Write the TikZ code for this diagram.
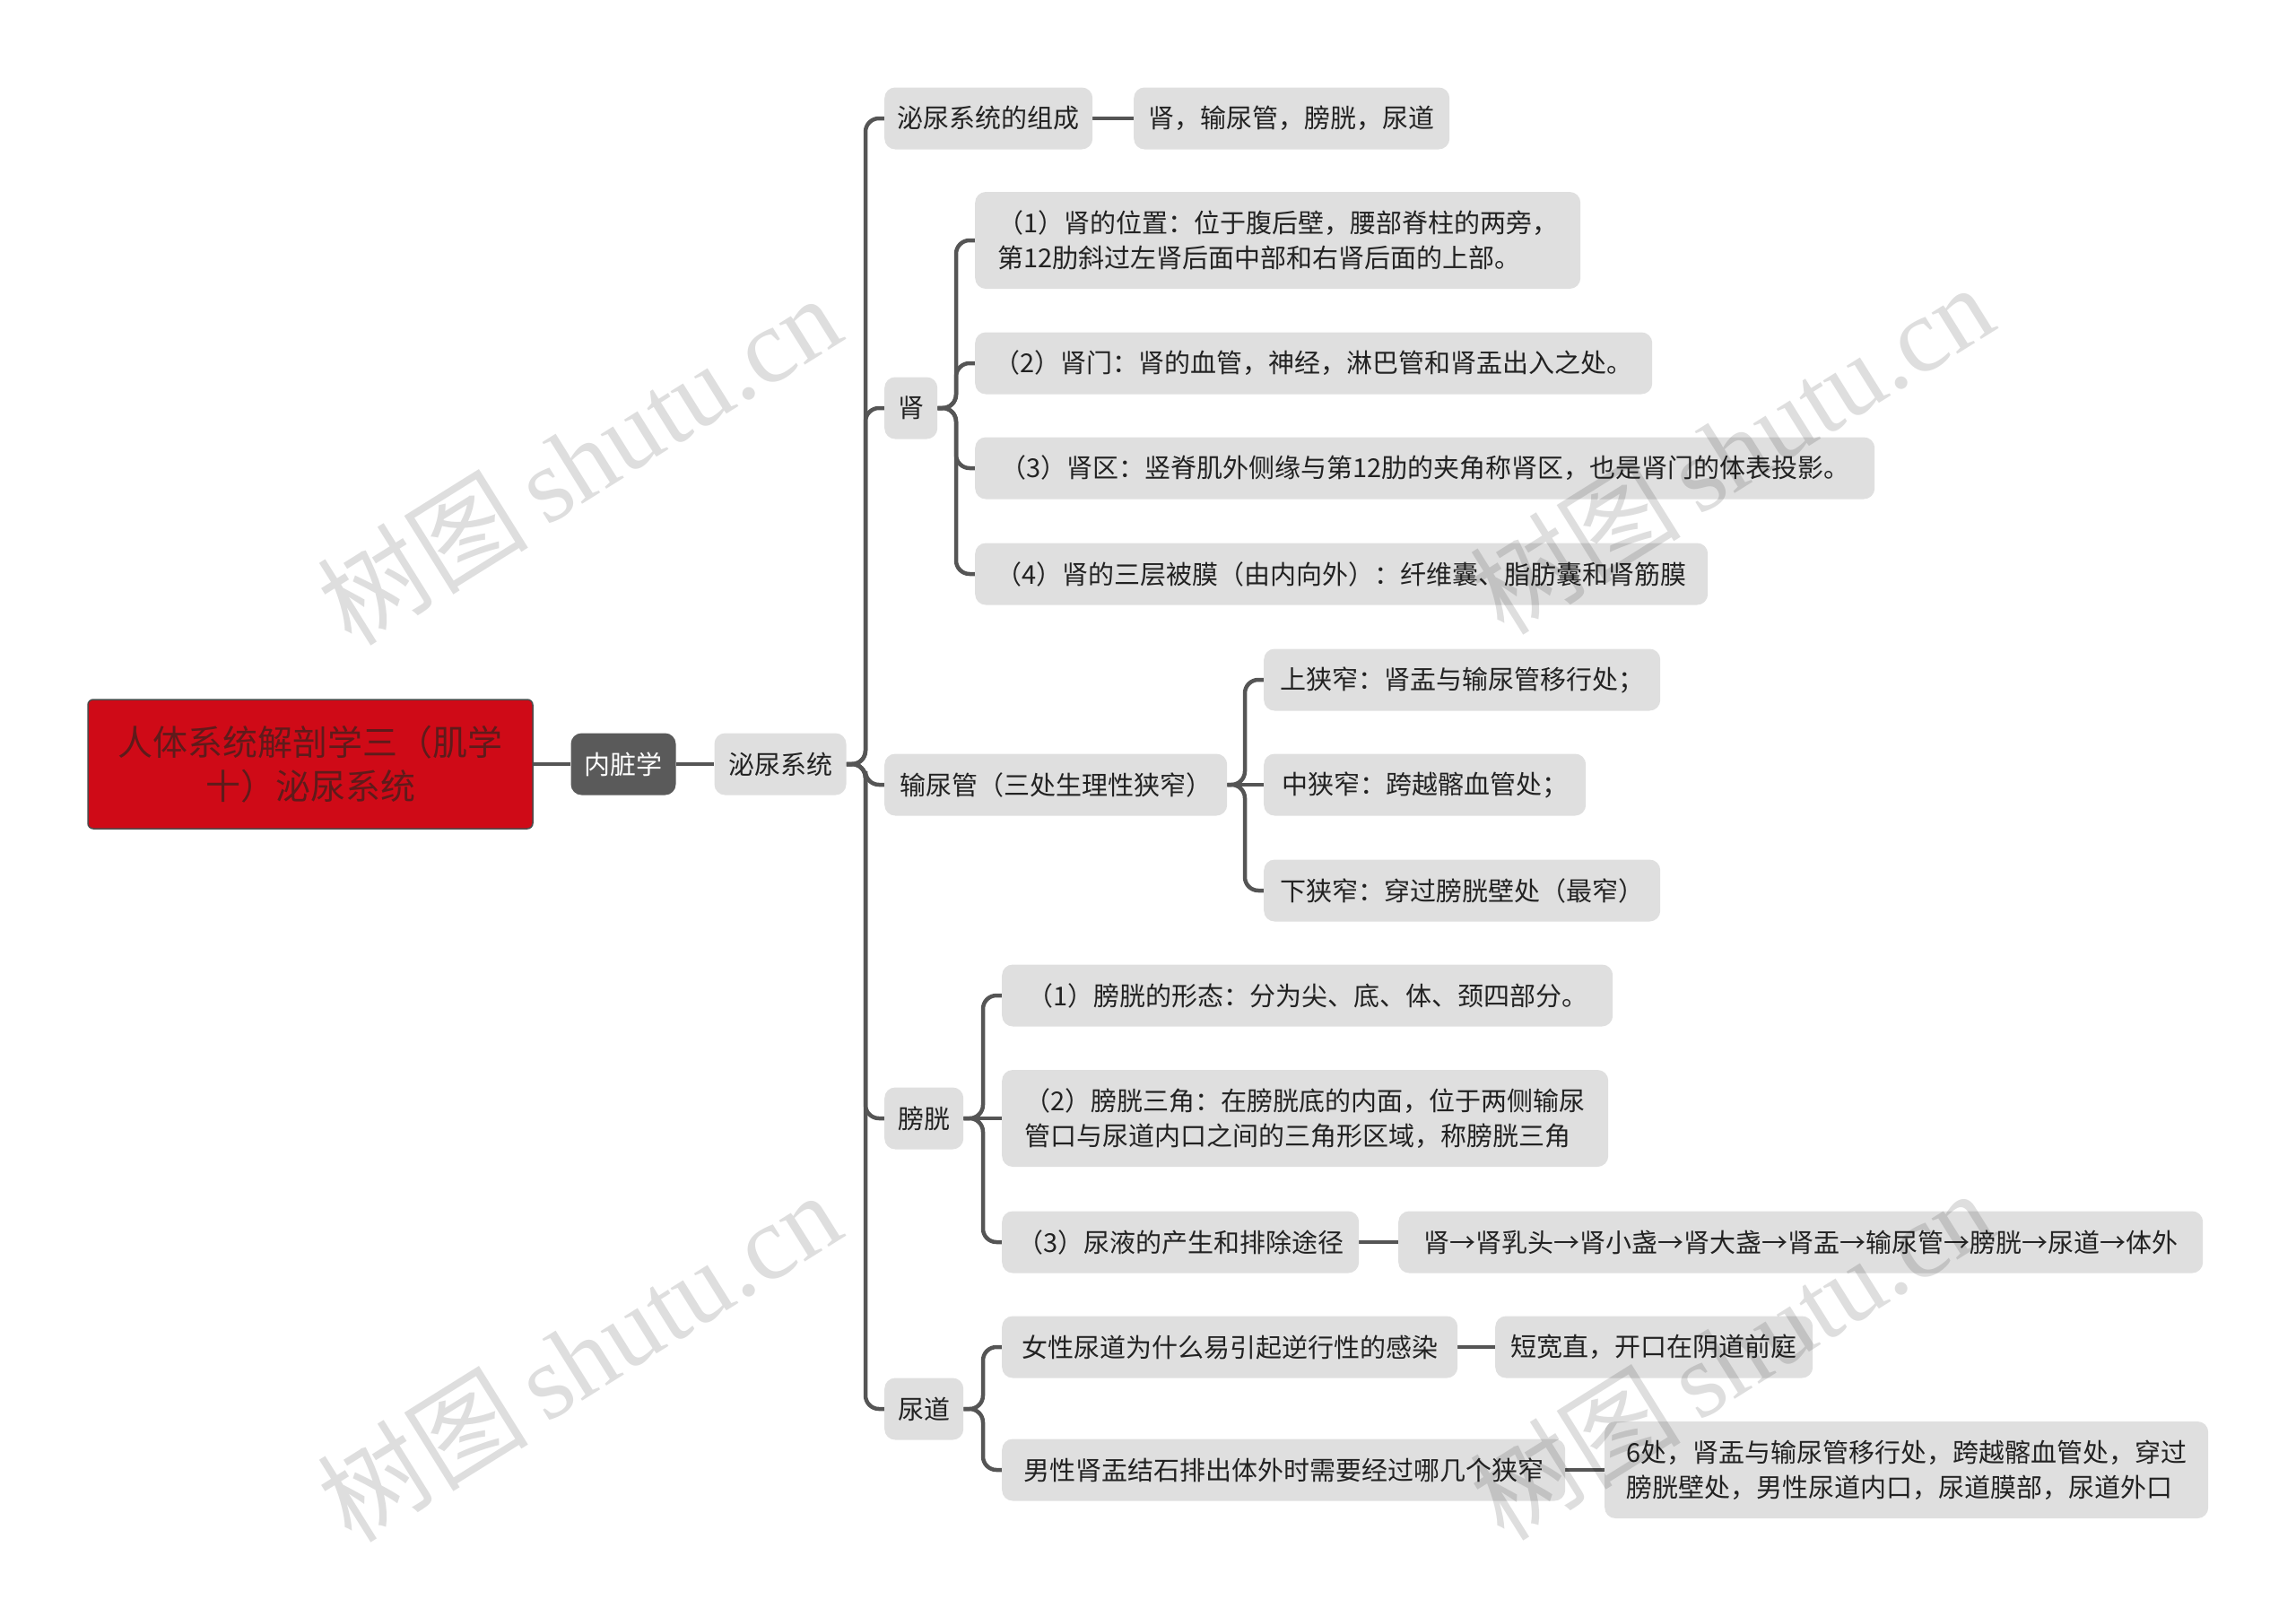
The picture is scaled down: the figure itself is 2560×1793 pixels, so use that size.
\documentclass[tikz,border=0pt]{standalone}
\usepackage{fontspec}
\newfontfamily\cjk{Noto Sans CJK SC}
\newfontfamily\wmlat{Liberation Serif}
\usetikzlibrary{backgrounds}
\definecolor{boxgray}{HTML}{DFDFDF}
\definecolor{linec}{HTML}{555555}
\definecolor{textc}{HTML}{222222}
\definecolor{rootred}{HTML}{CF0A17}
\definecolor{roottext}{HTML}{5E1B1B}
\definecolor{darkbox}{HTML}{5A5A5A}
\tikzset{
  x=1pt,y=-1pt,
  box/.style={fill=boxgray, rounded corners=12pt, inner xsep=14pt, inner ysep=0pt,
    minimum height=69pt, font=\cjk\fontsize{29}{39}\selectfont, text=textc, anchor=west},
  tall/.style={minimum height=108pt, align=left},
  conn/.style={draw=linec, line width=4.5pt, rounded corners=15pt},
  wm/.style={rotate=32, text=black, opacity=0.13, font=\fontsize{118}{118}\selectfont}
}
\begin{document}
\begin{tikzpicture}
\useasboundingbox (0,0) rectangle (2560,1793);
% root
\node[fill=rootred, draw=black!70, line width=1.5pt, rounded corners=6pt,
  minimum width=496pt, minimum height=144pt, align=center, text=roottext,
  font=\cjk\fontsize{39}{49}\selectfont] (root) at (346,852)
  {人体系统解剖学三（肌学\\十）泌尿系统};
\node[box, fill=darkbox, text=white, anchor=center, minimum width=117pt] (nzx) at (695,852) {内脏学};
\node[box, anchor=center, minimum width=147pt] (mnxt) at (870,852) {泌尿系统};
% level 3
\node[box, minimum width=232pt] (zc) at (986,132) {泌尿系统的组成};
\node[box, minimum width=352pt] (zca) at (1264,132) {肾，输尿管，膀胱，尿道};
\node[box, minimum width=59pt] (shen) at (986,455) {肾};
\node[box, minimum width=382pt] (sng) at (986,875) {输尿管（三处生理性狭窄）};
\node[box, minimum width=88pt] (pg) at (986,1247) {膀胱};
\node[box, minimum width=88pt] (nd) at (986,1571) {尿道};
% shen children
\node[box, tall, minimum width=675pt] (s1) at (1087,268) {（1）肾的位置：位于腹后壁，腰部脊柱的两旁，\\第12肋斜过左肾后面中部和右肾后面的上部。};
\node[box, minimum width=755pt] (s2) at (1087,405) {（2）肾门：肾的血管，神经，淋巴管和肾盂出入之处。};
\node[box, minimum width=1003pt] (s3) at (1087,522) {（3）肾区：竖脊肌外侧缘与第12肋的夹角称肾区，也是肾门的体表投影。};
\node[box, minimum width=817pt] (s4) at (1087,640) {（4）肾的三层被膜（由内向外）：纤维囊、脂肪囊和肾筋膜};
% ureter children
\node[box, minimum width=442pt] (n1) at (1409,758) {上狭窄：肾盂与输尿管移行处；};
\node[box, minimum width=359pt] (n2) at (1409,875) {中狭窄：跨越髂血管处；};
\node[box, minimum width=442pt] (n3) at (1409,993) {下狭窄：穿过膀胱壁处（最窄）};
% bladder children
\node[box, minimum width=681pt] (p1) at (1117,1110) {（1）膀胱的形态：分为尖、底、体、颈四部分。};
\node[box, tall, minimum width=676pt] (p2) at (1117,1247) {（2）膀胱三角：在膀胱底的内面，位于两侧输尿\\管口与尿道内口之间的三角形区域，称膀胱三角};
\node[box, minimum width=398pt] (p3) at (1117,1385) {（3）尿液的产生和排除途径};
\node[box, minimum width=897pt] (p3a) at (1559,1385) {肾→肾乳头→肾小盏→肾大盏→肾盂→输尿管→膀胱→尿道→体外};
% urethra children
\node[box, minimum width=508pt] (u1) at (1117,1502) {女性尿道为什么易引起逆行性的感染};
\node[box, minimum width=354pt] (u1a) at (1667,1502) {短宽直，开口在阴道前庭};
\node[box, minimum width=628pt] (u2) at (1117,1639) {男性肾盂结石排出体外时需要经过哪几个狭窄};
\node[box, tall, minimum width=673pt] (u2a) at (1789,1639) {6处，肾盂与输尿管移行处，跨越髂血管处，穿过\\膀胱壁处，男性尿道内口，尿道膜部，尿道外口};
% trunk coordinates
\coordinate (T3) at (965,852);
\coordinate (TS) at (1066,455);
\coordinate (TN) at (1388,875);
\coordinate (TP) at (1096,1247);
\coordinate (TU) at (1096,1571);
\begin{pgfonlayer}{background}
\draw[conn] (root.east) -- (nzx.west);
\draw[conn] (nzx.east) -- (mnxt.west);
\foreach \c in {zc,shen,sng,pg,nd} \draw[conn] (mnxt.east) -- (T3) |- (\c.west);
\draw[conn] (zc.east) -- (zca.west);
\foreach \c in {s1,s2,s3,s4} \draw[conn] (shen.east) -- (TS) |- (\c.west);
\foreach \c in {n1,n3} \draw[conn] (sng.east) -- (TN) |- (\c.west);
\draw[conn] (sng.east) -- (n2.west);
\foreach \c in {p1,p3} \draw[conn] (pg.east) -- (TP) |- (\c.west);
\draw[conn] (pg.east) -- (p2.west);
\draw[conn] (p3.east) -- (p3a.west);
\foreach \c in {u1,u2} \draw[conn] (nd.east) -- (TU) |- (\c.west);
\draw[conn] (u1.east) -- (u1a.west);
\draw[conn] (u2.east) -- (u2a.west);
\end{pgfonlayer}
% watermarks
\node[wm] (wm1) at (645,512) {\cjk 树图\,\wmlat shutu.cn};
\node[wm] (wm2) at (1930,500) {\cjk 树图\,\wmlat shutu.cn};
\node[wm] (wm3) at (645,1512) {\cjk 树图\,\wmlat shutu.cn};
\node[wm] (wm4) at (1930,1510) {\cjk 树图\,\wmlat shutu.cn};
\end{tikzpicture}
\end{document}
